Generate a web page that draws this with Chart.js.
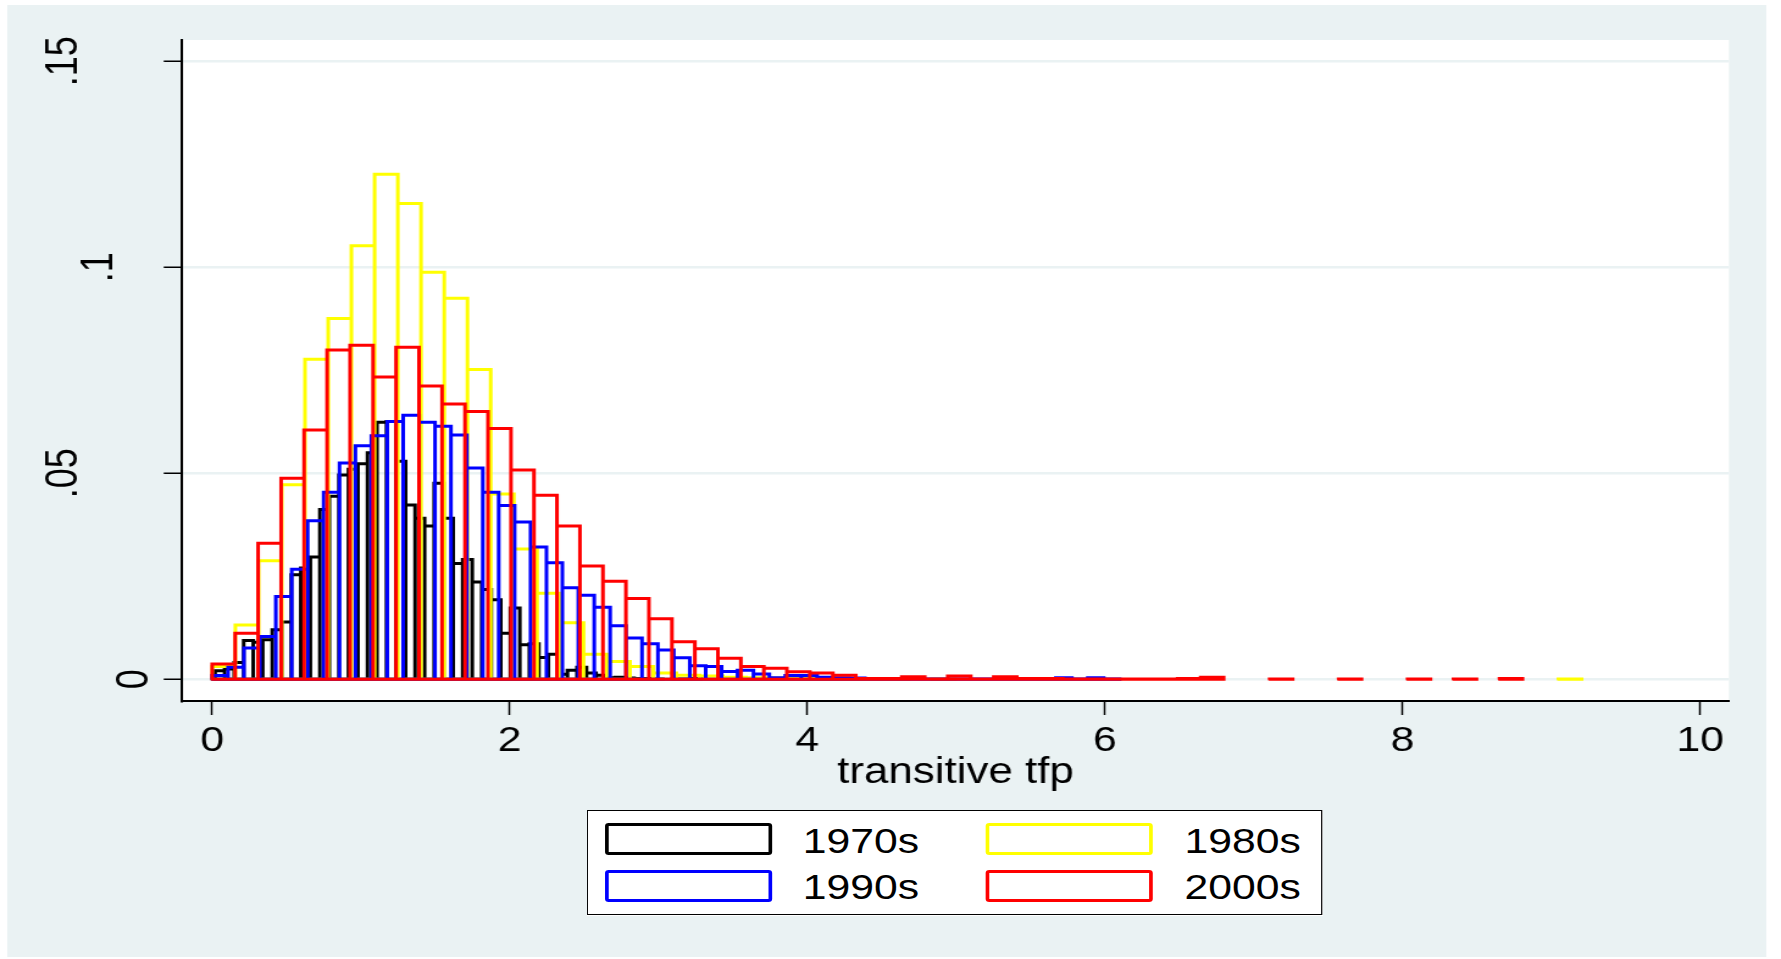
<!DOCTYPE html>
<html>
<head>
<meta charset="utf-8">
<script src="https://cdn.jsdelivr.net/npm/chart.js@4.4.1/dist/chart.umd.min.js"></script>
<style>
  html, body { margin: 0; padding: 0; background: #fff; overflow: hidden; }
  /* the reference graph is stretched sideways, so the whole stage is too */
  #stage { position: absolute; left: 0; top: 0; width: 1460px; height: 959px;
           transform: scaleX(1.21986); transform-origin: 0 0;
           font-family: "Liberation Sans", Arial, sans-serif; }
  #panel { position: absolute; left: 5.7px; top: 5px; width: 1442.7px; height: 952px; background: #eaf2f3; }
  #chart { position: absolute; left: 0; top: 0; }
  .legend { position: absolute; left: 481px; top: 810px; width: 603px; height: 105px;
            box-sizing: border-box; border: 1.5px solid #000; background: #fff; }
  .key { position: absolute; width: 137px; height: 32px; box-sizing: border-box;
         border: 3px solid; border-radius: 3px; background: #fff; }
  .lab { position: absolute; font-size: 35px; line-height: 35px; color: #000; white-space: nowrap; }
</style>
</head>
<body>
<div id="stage">
  <div id="panel"></div>
  <canvas id="chart" width="1460" height="959"></canvas>
  <div class="legend">
    <div class="key" style="left:14px; top:12px; border-color:#000;"></div>
    <div class="lab" style="left:176px; top:12px;">1970s</div>
    <div class="key" style="left:326px; top:12px; border-color:#ffff00;"></div>
    <div class="lab" style="left:489px; top:12px;">1980s</div>
    <div class="key" style="left:14px; top:59px; border-color:#0000ff;"></div>
    <div class="lab" style="left:176px; top:58px;">1990s</div>
    <div class="key" style="left:326px; top:59px; border-color:#ff0000;"></div>
    <div class="lab" style="left:489px; top:58px;">2000s</div>
  </div>
</div>
<script>
// histogram data (fraction of firms per bin)
const decades = ['1970s', '1980s', '1990s', '2000s'];
const colors = ['#000000', '#ffff00', '#0000ff', '#ff0000'];
const binStart = [0.02, 0, 0, 0];
const binWidth = [0.064, 0.156, 0.107, 0.1545];

const frac1970s = [0.0021, 0.0025, 0.0041, 0.0094, 0.009, 0.0096, 0.012, 0.0139, 0.0254, 0.027,
  0.0297, 0.0412, 0.0444, 0.0496, 0.051, 0.0523, 0.055, 0.0624, 0.0626, 0.0529,
  0.0423, 0.0391, 0.0372, 0.0476, 0.0391, 0.0281, 0.0291, 0.0236, 0.0218, 0.0193,
  0.0112, 0.0173, 0.0084, 0.0086, 0.0053, 0.0061, 0.0012, 0.0022, 0.0029, 0.0015,
  0.001, 0.0004, 0.0005, 0.0003, 0.0002, 0.0002, 0.0001, 0, 0.0001, 0.0001, 0.0002];

const frac1980s = [0.0031, 0.0132, 0.0288, 0.0472, 0.0777, 0.0876, 0.1052, 0.1226, 0.1155, 0.0988,
  0.0925, 0.0752, 0.045, 0.0316, 0.0209, 0.0137, 0.0061, 0.0043, 0.0031, 0.0015,
  0.001, 0.0008, 0.0005, 0.0004, 0.0003, 0.0002, 0.0002, 0.0002, 0.0001, 0.0001,
  0, 0.0001, 0, 0, 0, 0, 0, 0, 0, 0,
  0, 0, 0, 0, 0, 0, 0, 0, 0, 0,
  0, 0, 0, 0, 0, 0, 0, 0, 0.0001];

const frac1990s = [0.0009, 0.0029, 0.0076, 0.0104, 0.0201, 0.0267, 0.0385, 0.0454, 0.0525, 0.0567,
  0.0591, 0.0626, 0.0641, 0.0624, 0.0614, 0.0593, 0.0513, 0.0454, 0.0422, 0.0382,
  0.0321, 0.0283, 0.0222, 0.0204, 0.0175, 0.013, 0.010, 0.0086, 0.0071, 0.0052,
  0.0033, 0.0031, 0.0019, 0.0022, 0.0013, 0.0004, 0.0009, 0.0009, 0.0005, 0.0004,
  0.0003, 0.0002, 0.0002, 0.0001, 0.0001, 0.0001, 0.0001, 0.0001, 0.0001, 0.0001,
  0.0001, 0.0001, 0.0001, 0.0004, 0.0001, 0.0004, 0.0001];

const frac2000s = [0.0037, 0.0112, 0.033, 0.0488, 0.0605, 0.0799, 0.0811, 0.0734, 0.0806, 0.0712,
  0.0668, 0.065, 0.0609, 0.0508, 0.0447, 0.0372, 0.0275, 0.0238, 0.0196, 0.0147,
  0.0091, 0.0074, 0.0051, 0.0031, 0.0027, 0.0018, 0.0015, 0.001, 0.0002, 0.0002,
  0.0006, 0.0001, 0.0008, 0.0001, 0.0006, 0.0002, 0.0002, 0.0001, 0.0001, 0.0001,
  0.0001, 0.0001, 0.0002, 0.0005, 0, 0, 0.0001, 0, 0, 0.0001,
  0, 0, 0.0001, 0, 0.0001, 0, 0.0002];

const xTicks = [0, 2, 4, 6, 8, 10];
const yTicks = [0, 0.05, 0.1, 0.15];
const yTickLabels = ['0', '.05', '.1', '.15'];

const series = [frac1970s, frac1980s, frac1990s, frac2000s];
const fontFamily = '"Liberation Sans", Arial, sans-serif';

// trace the outline of each run of adjacent bars; empty bins break the line
function barOutline(start, width, heights) {
  const pts = [];
  let runStart = null;
  heights.forEach((h, i) => {
    const x0 = start + i * width;
    const x1 = x0 + width;
    if (!(h > 0)) {
      if (runStart !== null) {
        pts.push({ x: runStart, y: 0 }, { x: x0, y: null });
        runStart = null;
      }
      return;
    }
    if (runStart === null) {
      runStart = x0;
      pts.push({ x: x0, y: 0 });
    }
    pts.push({ x: x0, y: h }, { x: x1, y: h }, { x: x1, y: 0 });
  });
  if (runStart !== null) pts.push({ x: runStart, y: 0 });
  return pts;
}

const plotBackground = {
  id: 'plotBackground',
  beforeDraw(chart) {
    const { ctx, chartArea: a } = chart;
    ctx.save();
    ctx.fillStyle = '#ffffff';
    ctx.fillRect(a.left, a.top, a.right - a.left, a.bottom - a.top);
    ctx.restore();
  }
};

// Stata prints the y labels turned on their side; shorter labels sit closer to the axis
const rotatedYLabels = {
  id: 'rotatedYLabels',
  afterDraw(chart) {
    const { ctx, scales } = chart;
    ctx.save();
    ctx.fillStyle = '#000';
    ctx.font = '36px ' + fontFamily;
    ctx.textAlign = 'center';
    ctx.textBaseline = 'alphabetic';
    yTicks.forEach((v, i) => {
      const label = yTickLabels[i];
      const py = scales.y.getPixelForValue(v);
      const bx = 63 + (3 - label.length) * 29;
      ctx.save();
      ctx.translate(bx, py);
      ctx.rotate(-Math.PI / 2);
      ctx.fillText(label, 0, 0);
      ctx.restore();
    });
    ctx.restore();
  }
};

const datasets = series.map((vals, i) => ({
  label: decades[i],
  data: barOutline(binStart[i], binWidth[i], vals),
  borderColor: colors[i],
  backgroundColor: colors[i],
  borderWidth: 3,
  fill: false,
  spanGaps: false,
  pointRadius: 0,
  tension: 0,
  order: series.length - 1 - i
}));

new Chart(document.getElementById('chart').getContext('2d'), {
  type: 'line',
  data: { datasets: datasets },
  options: {
    responsive: false,
    devicePixelRatio: 1,
    animation: false,
    events: [],
    layout: { padding: { left: 0, top: 40, right: 42.7, bottom: 0 } },
    elements: {
      line: { borderJoinStyle: 'miter', borderCapStyle: 'round' }
    },
    plugins: {
      legend: { display: false },
      tooltip: { enabled: false }
    },
    scales: {
      x: {
        type: 'linear',
        min: -0.2025,
        max: 10.194,
        afterBuildTicks: s => { s.ticks = xTicks.map(v => ({ value: v })); },
        afterFit: s => { s.height = 258; },
        grid: { drawOnChartArea: false, tickLength: 14, tickColor: '#000', tickWidth: 1.5 },
        border: { color: '#000', width: 2 },
        ticks: {
          color: '#000',
          font: { family: fontFamily, size: 35 },
          padding: 5,
          maxRotation: 0,
          callback: v => String(v)
        },
        title: {
          display: true,
          text: 'transitive tfp',
          color: '#000',
          font: { family: fontFamily, size: 36 },
          padding: { top: 0, bottom: 164 }
        }
      },
      y: {
        min: -0.00527,
        max: 0.15517,
        afterBuildTicks: s => { s.ticks = yTicks.map(v => ({ value: v })); },
        afterFit: s => { s.width = 149.2; },
        grid: { color: '#eaf2f3', lineWidth: 2.5, tickLength: 15, tickColor: '#000', tickWidth: 1.5 },
        border: { color: '#000', width: 2 },
        ticks: { display: false }
      }
    }
  },
  plugins: [plotBackground, rotatedYLabels]
});
</script>
</body>
</html>
